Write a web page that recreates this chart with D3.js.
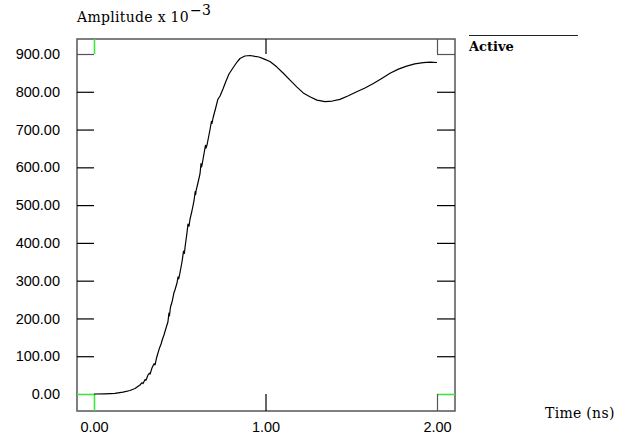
<!DOCTYPE html>
<html>
<head>
<meta charset="utf-8">
<script src="https://cdn.jsdelivr.net/npm/d3@7"></script>
<style>
  html, body { margin: 0; padding: 0; background: #fff; }
  svg { display: block; }
  .num { font-family: "Liberation Sans", Arial, sans-serif; font-size: 14.5px; fill: #000; }
  .ser { font-family: "DejaVu Serif", "Liberation Serif", serif; font-size: 14px; fill: #000; letter-spacing: 0.3px; }
</style>
</head>
<body>
<svg id="chart" width="624" height="438"></svg>
<script>
// Step response of the "Active" trace: time in ns, amplitude in units of 1e-3
const timeNs = [
  0.000, 0.064, 0.122, 0.169, 0.210, 0.239, 0.268, 0.280, 0.286, 0.297, 0.303,
  0.315, 0.322, 0.327, 0.338, 0.350, 0.356, 0.365, 0.373, 0.382, 0.391, 0.399,
  0.408, 0.420, 0.431, 0.437, 0.440, 0.446, 0.455, 0.466, 0.472, 0.484,
  0.490, 0.494, 0.501, 0.513, 0.522, 0.527, 0.531, 0.542, 0.548, 0.554,
  0.560, 0.571, 0.583, 0.590, 0.593, 0.595, 0.606, 0.618, 0.624, 0.627,
  0.630, 0.641, 0.650, 0.653, 0.659, 0.676, 0.685, 0.688, 0.694, 0.711,
  0.722, 0.735, 0.752, 0.770, 0.787, 0.810, 0.834, 0.851, 0.880, 0.910,
  0.939, 0.962, 0.990, 1.026, 1.065, 1.104, 1.143, 1.182, 1.220, 1.259,
  1.300, 1.347, 1.390, 1.434, 1.480, 1.532, 1.580, 1.629, 1.680, 1.726,
  1.775, 1.823, 1.870, 1.920, 1.960, 2.000
];
const amplitude = [
  0.0, 0.5, 1.5, 4.8, 9.3, 14.6, 23.8, 30.0, 27.5, 38.0, 36.5,
  50.3, 55.0, 52.5, 68.8, 80.0, 77.0, 96.0, 108.5, 122.0, 132.4, 145.0,
  156.2, 174.7, 190.6, 214.0, 207.0, 230.3, 243.5, 268.0, 275.3, 293.8,
  310.0, 305.0, 320.3, 349.4, 378.0, 372.0, 389.1, 426.2, 450.0, 444.0,
  463.2, 484.4, 510.9, 536.0, 528.0, 537.4, 558.5, 582.4, 610.0, 601.0,
  606.2, 635.3, 658.0, 651.0, 659.1, 698.8, 722.0, 716.0, 730.6, 759.7,
  780.0, 788.8, 807.4, 828.5, 847.1, 863.0, 878.8, 888.1, 894.7, 896.0,
  893.5, 892.0, 887.0, 880.0, 866.0, 849.0, 831.0, 813.0, 797.0, 787.0,
  778.0, 774.0, 775.5, 780.0, 789.0, 800.0, 810.0, 822.0, 836.0, 849.0,
  860.0, 868.0, 874.0, 877.0, 878.5, 877.5
];
const xTicks = [0, 1, 2];
const yTicks = [0, 100, 200, 300, 400, 500, 600, 700, 800, 900];
const seriesName = "Active";

const svg = d3.select("#chart");
const frame = { left: 77, right: 455, top: 39, bottom: 411 };
const tick = 17;
const green = "#3ee63e";
const frameGray = "#555";

const x = d3.scaleLinear().domain([0, 2]).range([94, 437]);
const y = d3.scaleLinear().domain([0, 900]).range([394, 54]);

// Plot frame
svg.append("rect")
  .attr("x", frame.left).attr("y", frame.top)
  .attr("width", frame.right - frame.left).attr("height", frame.bottom - frame.top)
  .attr("fill", "none").attr("stroke", frameGray).attr("stroke-width", 1.5);

function styleAxis(g, ends) {
  g.select(".domain").remove();
  g.selectAll(".tick line")
    .attr("stroke", d => d === ends[0] ? green : (d === ends[1] ? frameGray : "#000"))
    .attr("stroke-width", d => d === ends[0] ? 1.6 : 1.2);
}

// Left axis with labels
const yLeft = svg.append("g").attr("transform", `translate(${frame.left},0)`)
  .call(d3.axisLeft(y).tickValues(yTicks).tickSizeInner(-tick).tickSizeOuter(0)
        .tickPadding(tick).tickFormat(d3.format(".2f")));
styleAxis(yLeft, [0, 900]);
yLeft.selectAll("text").attr("class", "num").attr("font-family", null).attr("font-size", null);

// Right axis ticks
const yRight = svg.append("g").attr("transform", `translate(${frame.right},0)`)
  .call(d3.axisRight(y).tickValues(yTicks).tickSizeInner(-tick - 1).tickSizeOuter(0).tickFormat(""));
styleAxis(yRight, [0, 900]);

// Bottom axis with labels
const xBottom = svg.append("g").attr("transform", `translate(0,${frame.bottom})`)
  .call(d3.axisBottom(x).tickValues(xTicks).tickSizeInner(-tick).tickSizeOuter(0)
        .tickPadding(11).tickFormat(d3.format(".2f")));
styleAxis(xBottom, [0, 2]);
xBottom.selectAll("text").attr("class", "num").attr("font-family", null).attr("font-size", null);

// Top axis ticks
const xTop = svg.append("g").attr("transform", `translate(0,${frame.top})`)
  .call(d3.axisTop(x).tickValues(xTicks).tickSizeInner(-tick + 2).tickSizeOuter(0).tickFormat(""));
styleAxis(xTop, [0, 2]);

// Trace
const line = d3.line().x((d, i) => x(timeNs[i])).y(d => y(d));
svg.append("path")
  .datum(amplitude)
  .attr("d", line)
  .attr("fill", "none")
  .attr("stroke", "#000")
  .attr("stroke-width", 1.2)
  .attr("stroke-linejoin", "round");

// Axis titles
const title = svg.append("text").attr("class", "ser").attr("x", 77).attr("y", 22);
title.append("tspan").text("Amplitude x 10");
title.append("tspan").attr("dy", -7).attr("dx", 1).text("\u22123");

svg.append("text").attr("class", "ser").attr("x", 545).attr("y", 418).text("Time (ns)");

// Legend
svg.append("line").attr("x1", 469).attr("x2", 578).attr("y1", 35.5).attr("y2", 35.5)
  .attr("stroke", "#222").attr("stroke-width", 1);
svg.append("text").attr("class", "ser").attr("x", 469).attr("y", 51)
  .attr("font-weight", "bold").style("letter-spacing", "0px").style("font-size", "13px").text(seriesName);
</script>
</body>
</html>
